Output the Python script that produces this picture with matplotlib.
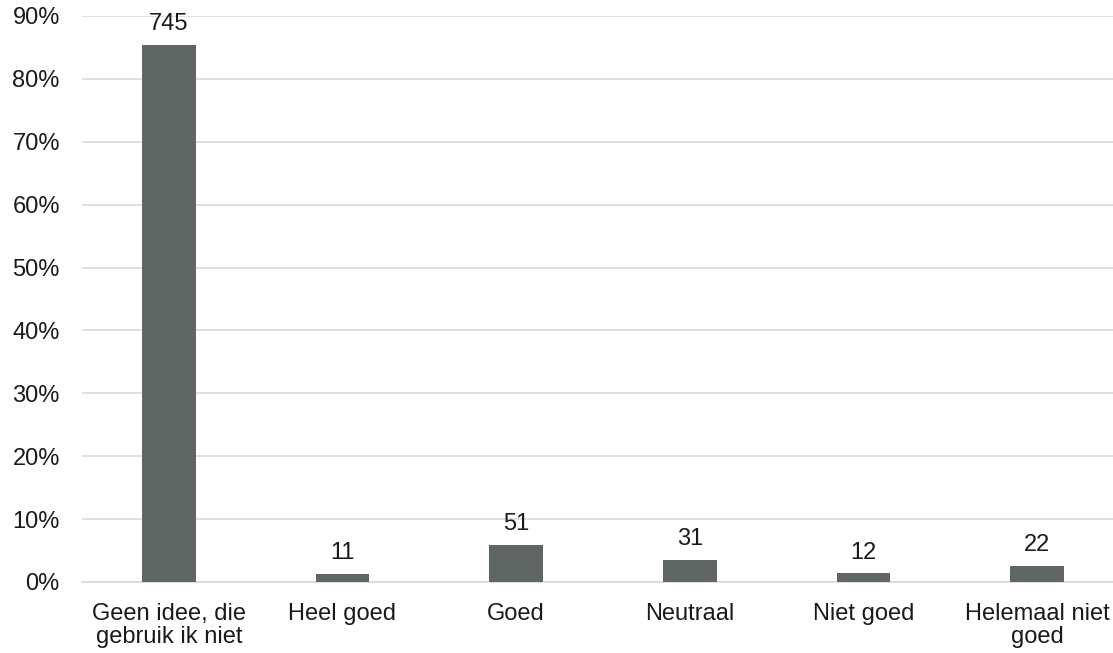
import matplotlib
matplotlib.use("Agg")
import matplotlib.pyplot as plt
from matplotlib.ticker import FuncFormatter, MultipleLocator

categories = ["Geen idee, die\ngebruik ik niet", "Heel goed", "Goed",
              "Neutraal", "Niet goed", "Helemaal niet\ngoed"]
counts = [745, 11, 51, 31, 12, 22]

total = sum(counts)
shares = [c / total * 100 for c in counts]

plt.rcParams["font.family"] = ["Liberation Sans", "DejaVu Sans"]
FS = 17
TEXT = "#1a1a1a"

fig = plt.figure(figsize=(11.13, 6.53), dpi=100)
# plot area runs past the right edge, as the gridlines do
ax = fig.add_axes([82 / 1113, 1 - 582 / 653, 1042 / 1113, 566 / 653])

x = range(len(categories))
ax.bar(x, shares, width=0.31, color="#5f6664", zorder=3)

for xi, s, c in zip(x, shares, counts):
    ax.annotate(str(c), (xi, s), xytext=(0, 7), textcoords="offset points",
                ha="center", va="bottom", fontsize=FS, color=TEXT)

ax.set_xlim(-0.5, len(categories) - 0.5)
ax.set_ylim(0, 90)
ax.yaxis.set_major_locator(MultipleLocator(10))
ax.yaxis.set_major_formatter(FuncFormatter(lambda v, _: f"{v:.0f}%"))
ax.grid(axis="y", color="#d9d9d9", linewidth=1.2, zorder=0)
ax.set_axisbelow(True)

ax.set_xticks(list(x))
ax.set_xticklabels(categories, fontsize=FS, color=TEXT, linespacing=1.05)
ax.tick_params(axis="y", labelsize=FS, colors=TEXT, length=0, pad=16)
ax.tick_params(axis="x", length=0, pad=15)

for side in ["top", "right", "left"]:
    ax.spines[side].set_visible(False)
ax.spines["bottom"].set_color("#d9d9d9")
ax.spines["bottom"].set_linewidth(1.2)

fig.savefig("out.png", dpi=100)
